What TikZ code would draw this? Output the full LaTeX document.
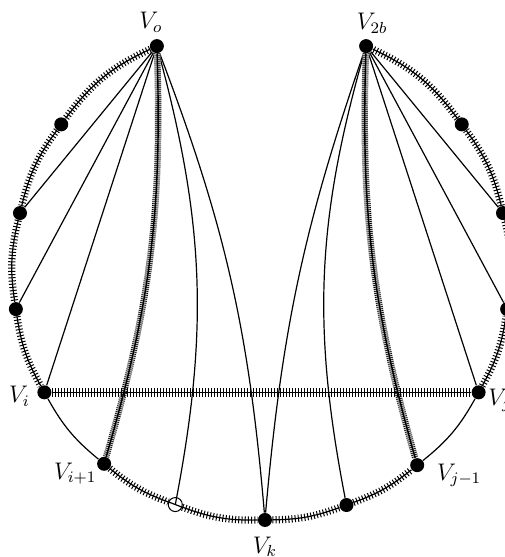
\documentclass[tikz,border=0pt]{standalone}
\usetikzlibrary{positioning}
\newcommand{\circrad}{124.25pt}
\tikzset{
  vtx/.style={
    circle,
    fill=black,
    inner sep=0pt,
    minimum size=7pt
  },
  openvtx/.style={
    circle,
    draw=black,
    line width=0.5pt,
    inner sep=0pt,
    minimum size=7pt
  },
  lbl/.style={
    inner sep=1pt,
    font=\fontsize{11.5}{13}\selectfont
  },
  edge/.style={
    line width=0.6pt
  },
  hatcharc/.style={
    line width=0.6pt,
    preaction={draw, line width=3.6pt, dash pattern=on 0.5pt off 1.1pt}
  },
  hatchchord/.style={
    line width=0.6pt,
    preaction={draw, line width=4.5pt, dash pattern=on 0.6pt off 0.9pt}
  },
  hatchcurve/.style={
    line width=0.7pt,
    preaction={draw=black!20, line width=3.2pt},
    preaction={draw, line width=3.2pt, dash pattern=on 0.3pt off 0.7pt}
  }
}

\begin{document}
\begin{tikzpicture}
  \useasboundingbox (-130.75pt,-142.75pt) rectangle (121.25pt,135.75pt);

  % vertices on the circle
  \node[vtx] (vo) at (114.9:\circrad) {};
  \node[vtx] (l1) at (143.7:\circrad) {};
  \node[vtx] (l2) at (166.4:\circrad) {};
  \node[vtx] (l3) at (188.7:\circrad) {};
  \node[vtx] (vi) at (209.1:\circrad) {};
  \node[vtx] (vi1) at (230.7:\circrad) {};
  \node[openvtx] (w) at (249.7:\circrad) {};
  \node[vtx] (vk) at (270.8:\circrad) {};
  \node[vtx] (u) at (290:\circrad) {};
  \node[vtx] (vj1) at (308.8:\circrad) {};
  \node[vtx] (vj) at (330.9:\circrad) {};
  \node[vtx] (r3) at (351.3:\circrad) {};
  \node[vtx] (r2) at (13.6:\circrad) {};
  \node[vtx] (r1) at (36.3:\circrad) {};
  \node[vtx] (v2b) at (65.1:\circrad) {};

  % labels
  \node[lbl, above=2pt of vo, xshift=-3pt] (lo) {$V_o$};
  \node[lbl, above=1.5pt of v2b, xshift=3pt] (l2b) {$V_{2b}$};
  \node[lbl, left=2.5pt of vi, yshift=-2pt] (li) {$V_i$};
  \node[lbl, left=-1pt of vi1, yshift=-5pt] (li1) {$V_{i+1}$};
  \node[lbl, below=3.5pt of vk] (lk) {$V_k$};
  \node[lbl, right=5pt of vj1, yshift=-5pt] (lj1) {$V_{j-1}$};
  \node[lbl, right=0pt of vj, yshift=-4pt] (lj) {$V_j$};

  % rim of the circle
  \foreach \a/\b/\t in {vo/l1/14.4, l1/l2/11.35, l2/l3/11.15, l3/vi/10.2,
                        vi1/w/9.5, w/vk/10.55, vk/u/9.6, u/vj1/9.4,
                        vj/r3/10.2, r3/r2/11.15, r2/r1/11.35, r1/v2b/14.4}
    \draw[hatcharc] (\a) to[bend right=\t] (\b);
  \draw[edge] (vi) to[bend right=10.8] (vi1);
  \draw[edge] (vj1) to[bend right=11.05] (vj);
  \draw[edge] (w.159.7) -- (w.339.7);

  % chords
  \foreach \b in {l2,l3,vi}
    \draw[edge] (vo) -- (\b);
  \foreach \b in {r2,r3,vj}
    \draw[edge] (v2b) -- (\b);
  \draw[edge] (vo) to[bend left=13] (w.center);
  \draw[edge] (vo) to[bend left=8] (vk);
  \draw[edge] (v2b) to[bend right=7] (vk);
  \draw[edge] (v2b) to[bend right=13.4] (u);
  \draw[hatchcurve] (vo) to[bend left=9] (vi1);
  \draw[hatchcurve] (v2b) to[bend right=8.8] (vj1);
  \draw[hatchchord] (vi) -- (vj);
\end{tikzpicture}
\end{document}
